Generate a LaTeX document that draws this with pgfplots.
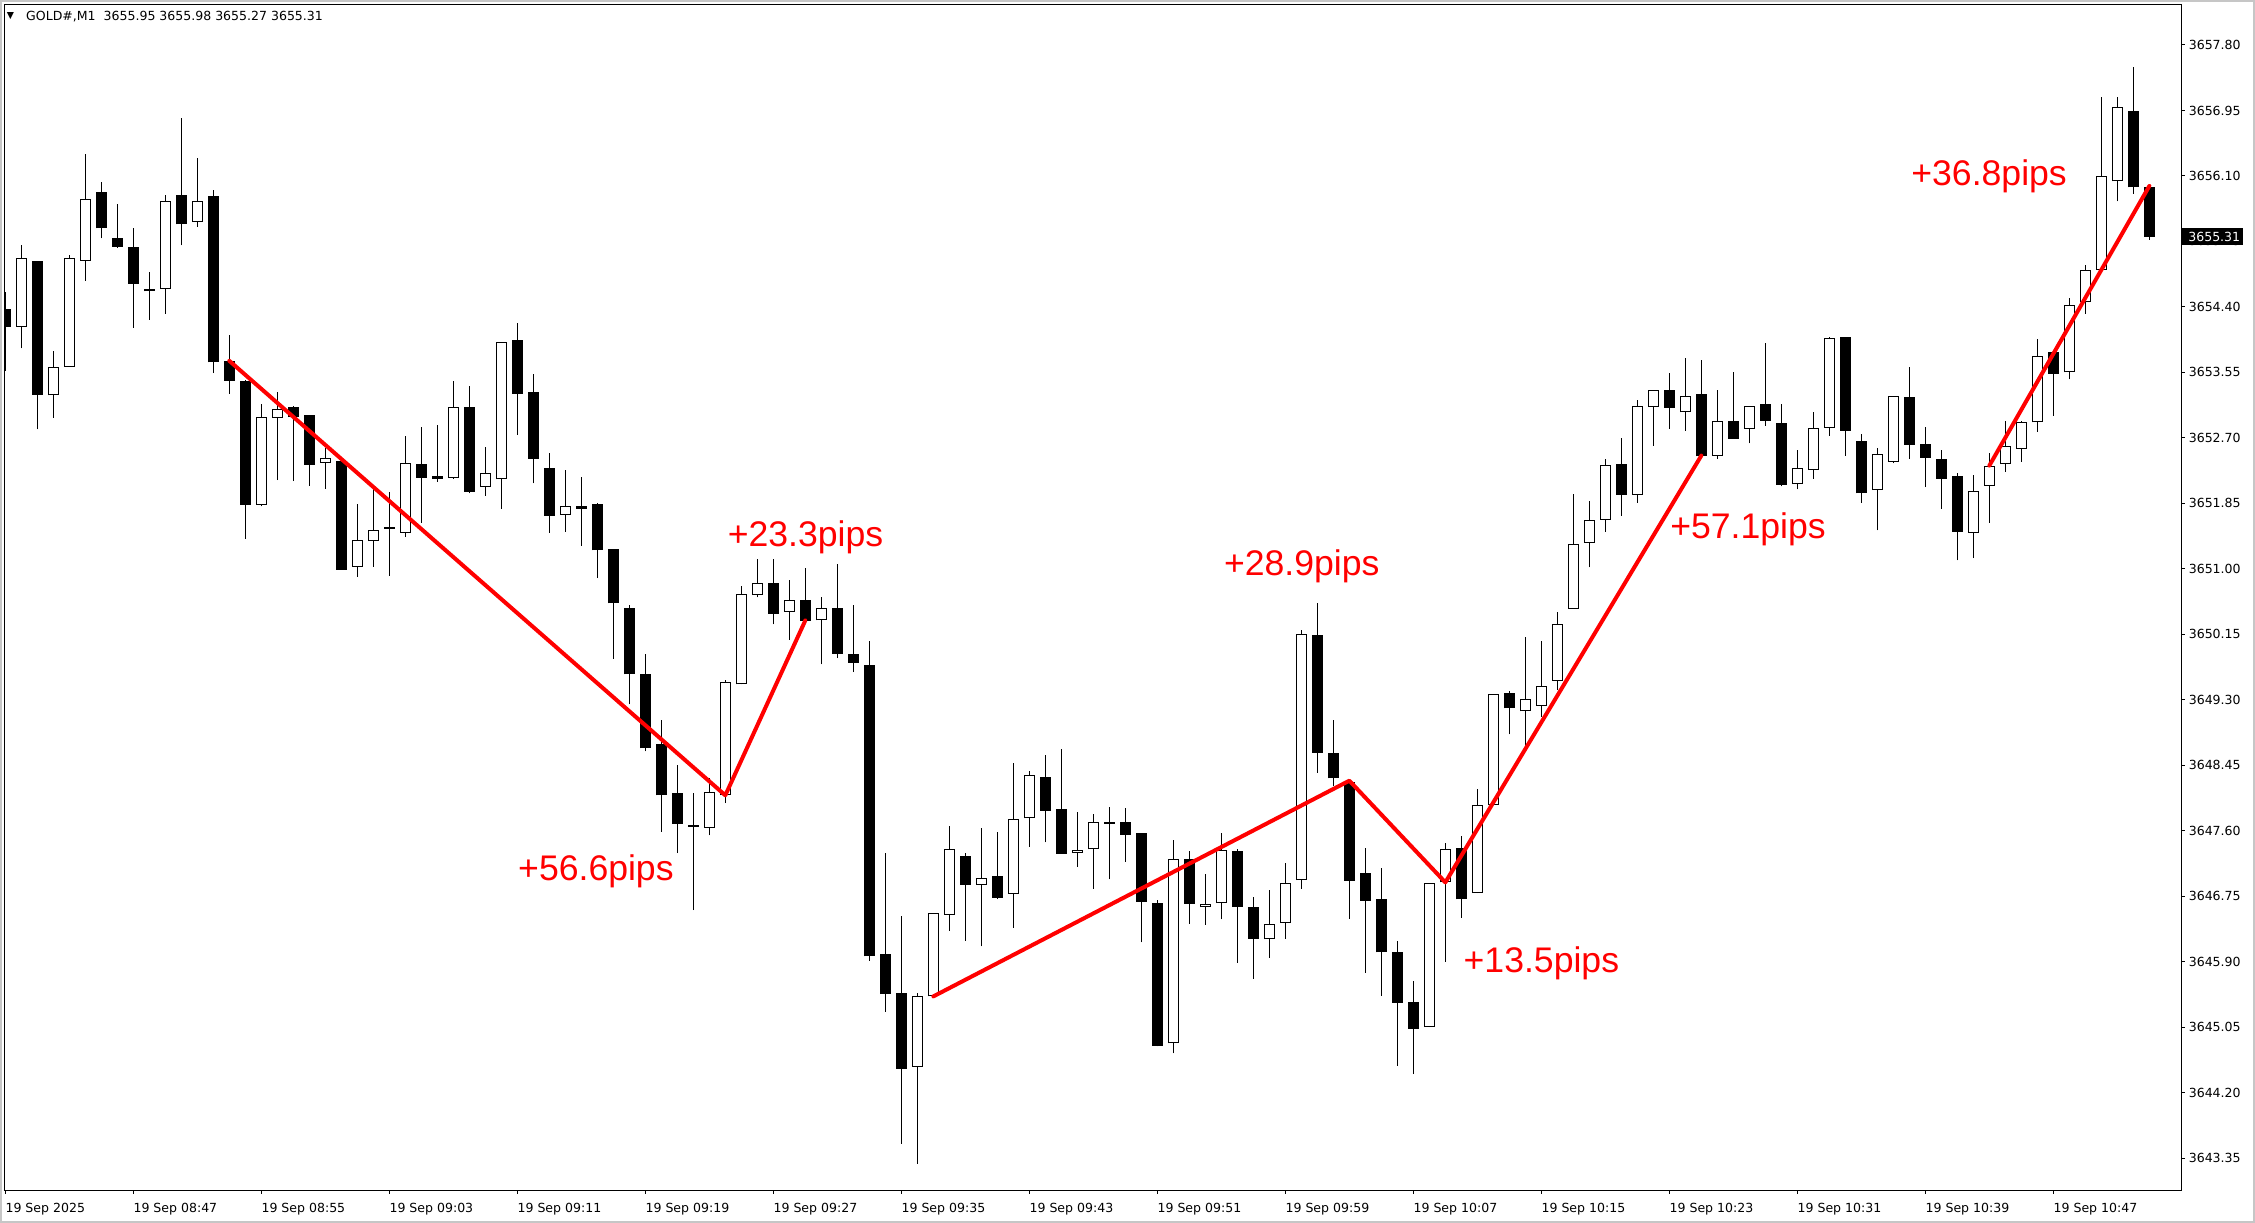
\documentclass[border=0pt]{standalone}
\usepackage{pgfplots}
\pgfplotsset{compat=1.18}
\usepackage{pgfplotstable}
\usepackage{fontspec}
\setmainfont{DejaVu Sans}
\newfontfamily\arialfont{Liberation Sans}
\tikzset{pips/.style={anchor=base west, inner sep=0pt, text=red, font=\arialfont\fontsize{26.7pt}{30pt}\selectfont}}
\pgfplotstableread{
i O H L C
0 3654.37 3654.59 3653.57 3654.14
1 3654.14 3655.20 3653.86 3655.03
2 3655.00 3655.00 3652.81 3653.26
3 3653.25 3653.83 3652.96 3653.62
4 3653.62 3655.07 3653.62 3655.04
5 3655.00 3656.39 3654.74 3655.80
6 3655.89 3656.02 3655.29 3655.42
7 3655.29 3655.74 3655.17 3655.18
8 3655.18 3655.42 3654.13 3654.70
9 3654.63 3654.85 3654.23 3654.60
10 3654.63 3655.85 3654.31 3655.78
11 3655.85 3656.85 3655.20 3655.47
12 3655.50 3656.33 3655.44 3655.78
13 3655.84 3655.92 3653.54 3653.68
14 3653.70 3654.03 3653.27 3653.44
15 3653.44 3653.45 3651.39 3651.83
16 3651.83 3653.14 3651.81 3652.97
17 3652.96 3653.30 3652.15 3653.08
18 3653.10 3653.11 3652.14 3652.97
19 3653.00 3653.00 3652.08 3652.35
20 3652.38 3652.57 3652.04 3652.44
21 3652.40 3652.42 3650.99 3650.99
22 3651.03 3651.84 3650.90 3651.37
23 3651.36 3652.07 3651.03 3651.51
24 3651.54 3652.00 3650.91 3651.52
25 3651.47 3652.72 3651.41 3652.37
26 3652.36 3652.84 3651.60 3652.18
27 3652.21 3652.87 3652.13 3652.17
28 3652.18 3653.44 3652.17 3653.10
29 3653.10 3653.37 3651.98 3652.00
30 3652.06 3652.58 3651.95 3652.25
31 3652.16 3653.95 3651.78 3653.94
32 3653.97 3654.19 3652.74 3653.27
33 3653.29 3653.53 3652.11 3652.43
34 3652.31 3652.50 3651.47 3651.69
35 3651.70 3652.28 3651.48 3651.82
36 3651.82 3652.19 3651.30 3651.78
37 3651.84 3651.86 3650.88 3651.24
38 3651.26 3651.26 3649.83 3650.55
39 3650.49 3650.53 3649.24 3649.63
40 3649.63 3649.89 3648.63 3648.67
41 3648.73 3649.04 3647.59 3648.06
42 3648.09 3648.45 3647.31 3647.69
43 3647.67 3648.09 3646.57 3647.65
44 3647.64 3648.29 3647.54 3648.10
45 3648.06 3649.56 3647.96 3649.53
46 3649.50 3650.78 3649.50 3650.67
47 3650.66 3651.13 3650.63 3650.81
48 3650.81 3651.13 3650.28 3650.42
49 3650.44 3650.86 3650.08 3650.60
50 3650.60 3651.01 3650.30 3650.32
51 3650.33 3650.64 3649.76 3650.49
52 3650.49 3651.06 3649.84 3649.90
53 3649.89 3650.53 3649.66 3649.78
54 3649.75 3650.06 3645.91 3645.97
55 3646.00 3647.31 3645.25 3645.48
56 3645.49 3646.49 3643.54 3644.51
57 3644.54 3645.49 3643.28 3645.46
58 3645.45 3646.53 3645.45 3646.53
59 3646.51 3647.66 3646.30 3647.36
60 3647.27 3647.31 3646.17 3646.90
61 3646.90 3647.63 3646.10 3646.99
62 3647.01 3647.58 3646.72 3646.73
63 3646.78 3648.48 3646.34 3647.75
64 3647.76 3648.38 3647.39 3648.32
65 3648.30 3648.58 3647.45 3647.86
66 3647.88 3648.66 3647.30 3647.30
67 3647.31 3647.84 3647.13 3647.35
68 3647.36 3647.82 3646.85 3647.71
69 3647.71 3647.91 3646.97 3647.69
70 3647.71 3647.90 3647.20 3647.55
71 3647.57 3647.57 3646.15 3646.68
72 3646.66 3646.70 3644.80 3644.81
73 3644.84 3647.48 3644.71 3647.24
74 3647.23 3647.34 3646.39 3646.65
75 3646.61 3647.04 3646.38 3646.65
76 3646.66 3647.57 3646.45 3647.35
77 3647.34 3647.36 3645.89 3646.61
78 3646.61 3646.74 3645.68 3646.20
79 3646.19 3646.83 3645.95 3646.39
80 3646.40 3647.18 3646.20 3646.92
81 3646.96 3650.20 3646.85 3650.15
82 3650.14 3650.55 3648.35 3648.61
83 3648.61 3649.04 3648.18 3648.28
84 3648.23 3648.24 3646.46 3646.95
85 3647.05 3647.38 3645.76 3646.69
86 3646.72 3647.12 3645.46 3646.02
87 3646.03 3646.17 3644.55 3645.37
88 3645.38 3645.65 3644.44 3645.03
89 3645.05 3646.92 3645.05 3646.92
90 3646.93 3647.44 3645.90 3647.36
91 3647.37 3647.53 3646.47 3646.71
92 3646.79 3648.14 3646.79 3647.93
93 3647.93 3649.37 3647.93 3649.37
94 3649.39 3649.42 3648.85 3649.19
95 3649.15 3650.12 3648.69 3649.31
96 3649.22 3650.06 3649.08 3649.48
97 3649.55 3650.44 3649.43 3650.29
98 3650.48 3651.97 3650.48 3651.32
99 3651.34 3651.88 3651.02 3651.63
100 3651.64 3652.43 3651.48 3652.35
101 3652.36 3652.70 3651.69 3651.96
102 3651.96 3653.19 3651.86 3653.11
103 3653.10 3653.32 3652.60 3653.32
104 3653.32 3653.54 3652.82 3653.09
105 3653.03 3653.74 3652.79 3653.24
106 3653.27 3653.71 3652.46 3652.46
107 3652.47 3653.32 3652.43 3652.92
108 3652.92 3653.56 3652.69 3652.69
109 3652.82 3653.12 3652.63 3653.12
110 3653.14 3653.93 3652.86 3652.92
111 3652.89 3653.14 3652.07 3652.09
112 3652.10 3652.54 3652.03 3652.31
113 3652.28 3653.04 3652.17 3652.83
114 3652.83 3654.01 3652.73 3653.99
115 3654.01 3654.01 3652.47 3652.79
116 3652.66 3652.75 3651.86 3651.98
117 3652.02 3652.57 3651.50 3652.49
118 3652.39 3653.24 3652.37 3653.24
119 3653.23 3653.62 3652.43 3652.61
120 3652.62 3652.84 3652.06 3652.44
121 3652.42 3652.54 3651.78 3652.17
122 3652.21 3652.24 3651.11 3651.48
123 3651.47 3652.22 3651.14 3652.01
124 3652.08 3652.51 3651.60 3652.34
125 3652.36 3652.92 3652.26 3652.60
126 3652.56 3652.92 3652.39 3652.90
127 3652.90 3653.98 3652.78 3653.76
128 3653.82 3653.82 3652.99 3653.53
129 3653.55 3654.52 3653.46 3654.43
130 3654.46 3654.94 3654.31 3654.88
131 3654.88 3657.13 3654.88 3656.10
132 3656.03 3657.12 3655.77 3657.00
133 3656.94 3657.51 3655.87 3655.95
134 3655.95 3655.98 3655.27 3655.31
}\candles
\begin{document}
\begin{tikzpicture}
\path[use as bounding box] (0,0) rectangle (1691.25pt,917.25pt);
\fill[white] (0,0) rectangle (1691.25pt,917.25pt);
\draw[gray!45, line width=1.5pt] (0.75pt,0.75pt) rectangle (1690.5pt,916.5pt);
\begin{axis}[
  at={(3.375pt,24.225pt)}, anchor=south west,
  scale only axis, width=1632.75pt, height=889.8pt,
  xmin=-0.05, xmax=136.01, ymin=3642.928, ymax=3658.328,
  axis on top, clip mode=individual,
  axis line style={line width=0.75pt, black},
  tick align=outside, major tick length=2.25pt,
  every tick/.style={line width=0.75pt, black},
  ytick pos=right, yticklabel pos=right,
  xtick pos=left, xticklabel pos=left,
  ytick={3643.35,3644.20,3645.05,3645.90,3646.75,3647.60,3648.45,3649.30,3650.15,3651.00,3651.85,3652.70,3653.55,3654.40,3655.25,3656.10,3656.95,3657.80},
  yticklabels={3643.35,3644.20,3645.05,3645.90,3646.75,3647.60,3648.45,3649.30,3650.15,3651.00,3651.85,3652.70,3653.55,3654.40,3655.25,3656.10,3656.95,3657.80},
  xtick={0,8,16,24,32,40,48,56,64,72,80,88,96,104,112,120,128},
  xticklabels={19 Sep 2025,19 Sep 08:47,19 Sep 08:55,19 Sep 09:03,19 Sep 09:11,19 Sep 09:19,19 Sep 09:27,19 Sep 09:35,19 Sep 09:43,19 Sep 09:51,19 Sep 09:59,19 Sep 10:07,19 Sep 10:15,19 Sep 10:23,19 Sep 10:31,19 Sep 10:39,19 Sep 10:47},
  yticklabel style={anchor=west, inner sep=0pt, xshift=3pt, font=\fontsize{9.4pt}{11pt}\selectfont},
  xticklabel style={anchor=base west, inner sep=0pt, yshift=-14.2pt, font=\fontsize{9.4pt}{11pt}\selectfont},
]
% wicks
\addplot[draw=none, forget plot, error bars/.cd, y dir=plus, y explicit, error mark=none,
  error bar style={draw=black, solid, line width=0.75pt}]
  table[x=i, y=L, y error plus expr={\thisrow{H}-\thisrow{L}}] {\candles};
% bearish bodies
\addplot[draw=none, forget plot, restrict expr to domain={\thisrow{O}-\thisrow{C}}{0.0001:100},
  error bars/.cd, y dir=plus, y explicit, error mark=none,
  error bar style={draw=black, solid, line width=7.875pt}]
  table[x=i, y=C, y error plus expr={max(\thisrow{O}-\thisrow{C},0.025)}] {\candles};
% bullish bodies: outline
\addplot[draw=none, forget plot, restrict expr to domain={\thisrow{C}-\thisrow{O}}{0:100},
  error bars/.cd, y dir=plus, y explicit, error mark=none,
  error bar style={draw=black, solid, line width=7.875pt}]
  table[x=i, y=O, y error plus expr={max(\thisrow{C}-\thisrow{O},0.025)}] {\candles};
% bullish bodies: fill
\addplot[draw=none, forget plot, restrict expr to domain={\thisrow{C}-\thisrow{O}}{0:100},
  error bars/.cd, y dir=plus, y explicit, error mark=none,
  error bar style={draw=white, solid, line width=6.375pt}]
  table[x=i, y expr={\thisrow{O}+0.013}, y error plus expr={max(\thisrow{C}-\thisrow{O}-0.026,0)}] {\candles};
% red trend lines
\addplot[red, line width=3pt, line join=round, line cap=round] coordinates {(14,3653.70) (45,3648.06) (50,3650.33)};
\addplot[red, line width=3pt, line join=round, line cap=round] coordinates {(58,3645.45) (84,3648.25) (90,3646.93) (106,3652.47)};
\addplot[red, line width=3pt, line join=round, line cap=round] coordinates {(124,3652.34) (134,3655.97)};
% annotations
\node[pips] at (axis cs:32.04,3646.948) {+56.6pips};
\node[pips] at (axis cs:45.14,3651.296) {+23.3pips};
\node[pips] at (axis cs:76.15,3650.917) {+28.9pips};
\node[pips] at (axis cs:91.13,3645.756) {+13.5pips};
\node[pips] at (axis cs:104.04,3651.400) {+57.1pips};
\node[pips] at (axis cs:119.11,3655.970) {+36.8pips};
% header
\node[anchor=center, inner sep=0pt, font=\fontsize{7pt}{8pt}\selectfont] at ([xshift=4.5pt,yshift=-9pt]rel axis cs:0,1) {▼};
\node[anchor=west, inner sep=0pt, font=\fontsize{9.4pt}{11pt}\selectfont] at ([xshift=16.1pt,yshift=-9pt]rel axis cs:0,1) {GOLD\#,M1\ \ 3655.95 3655.98 3655.27 3655.31};
\coordinate (cp) at (axis cs:136.01,3655.31);
\end{axis}
% current price label, drawn over the price scale
\node[anchor=west, fill=black, text=white, inner ysep=0pt, inner xsep=0pt, minimum height=12.75pt, font=\fontsize{9.4pt}{11pt}\selectfont] at (cp) {\hspace*{4.9pt}3655.31\hspace*{2.4pt}};
\end{tikzpicture}
\end{document}
